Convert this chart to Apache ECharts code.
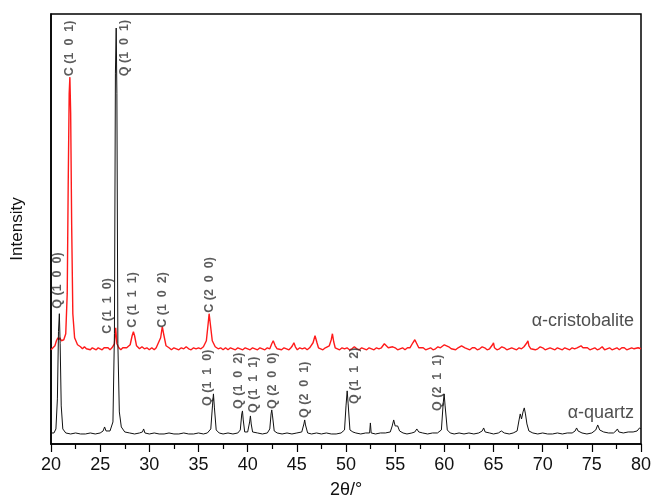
<!DOCTYPE html>
<html>
<head>
<meta charset="utf-8">
<script src="https://cdn.jsdelivr.net/npm/echarts@6/dist/echarts.min.js"></script>
<style>
  html, body { margin: 0; padding: 0; background: #fff; }
  #main { width: 655px; height: 499px; }
</style>
</head>
<body>
<div id="main"></div>
<script>
// 2theta ticks
var xTicks = [20, 25, 30, 35, 40, 45, 50, 55, 60, 65, 70, 75, 80];

// alpha-quartz pattern [2theta, intensity]
var quartz = [
  [20.0,11],[20.3,11],[20.5,15],[20.65,45],[20.76,112],[20.85,130],[20.93,100],[21.04,38],[21.2,15],[21.5,11],
  [22.0,10],[22.5,11],[23.0,10],[23.5,10],[24.0,11],[24.5,10],[25.0,11],[25.3,13],[25.45,17],[25.6,13],
  [26.0,13],[26.3,22],[26.45,110],[26.55,370],[26.63,415],[26.7,350],[26.8,100],[26.95,32],[27.15,17],[27.5,12],
  [28.0,11],[28.5,10],[29.0,11],[29.3,12],[29.42,15],[29.55,11],[30.0,10],[30.5,11],[31.0,10],[31.5,10],
  [32.0,11],[32.5,10],[33.0,10],[33.5,11],[34.0,10],[34.5,10],[35.0,11],[35.5,10],[35.9,11],[36.25,15],
  [36.42,38],[36.52,50],[36.62,36],[36.8,14],[37.1,11],[37.5,10],[38.0,11],[38.5,10],[39.0,11],[39.25,14],
  [39.4,30],[39.47,33],[39.55,24],[39.7,12],[40.0,12],[40.2,22],[40.28,28],[40.36,20],[40.5,12],[41.0,11],
  [41.5,10],[42.0,11],[42.25,15],[42.38,30],[42.45,34],[42.53,28],[42.7,13],[43.0,11],[43.5,10],[44.0,11],
  [44.5,10],[45.0,11],[45.5,12],[45.72,20],[45.8,24],[45.88,19],[46.1,11],[46.5,10],[47.0,11],[47.5,10],
  [48.0,11],[48.5,10],[49.0,10],[49.5,11],[49.85,14],[50.0,38],[50.12,53],[50.22,40],[50.4,14],[50.7,12],
  [51.0,11],[51.5,10],[52.0,11],[52.4,11],[52.48,21],[52.56,11],[53.0,10],[53.5,11],[54.0,11],[54.5,12],
  [54.7,18],[54.85,24],[55.0,18],[55.25,18],[55.45,13],[55.8,11],[56.2,10],[56.7,11],[57.0,12],[57.2,15],
  [57.4,12],[57.8,11],[58.3,10],[58.8,11],[59.3,11],[59.7,14],[59.88,40],[59.98,50],[60.08,38],[60.3,14],
  [60.6,11],[61.0,10],[61.5,11],[62.0,10],[62.5,11],[63.0,10],[63.5,11],[63.85,13],[64.0,16],[64.15,12],
  [64.6,11],[65.0,10],[65.5,11],[65.8,13],[66.1,11],[66.6,10],[67.0,11],[67.4,13],[67.6,24],[67.72,30],
  [67.85,25],[68.0,32],[68.13,36],[68.25,30],[68.4,20],[68.6,13],[69.0,11],[69.5,10],[70.0,11],[70.5,10],
  [71.0,10],[71.5,11],[72.0,10],[72.5,11],[73.0,11],[73.3,13],[73.45,16],[73.6,13],[74.0,11],[74.5,10],
  [75.0,11],[75.4,14],[75.6,19],[75.8,14],[76.2,12],[76.7,11],[77.2,11],[77.45,13],[77.6,15],[77.75,12],
  [78.2,11],[78.7,12],[79.2,12],[79.6,13],[79.85,16],[80.0,15]
];

// alpha-cristobalite pattern (offset upward)
var cristobalite = [
  [20.0,94],[20.2,96],[20.4,98],[20.55,103],[20.7,106],[20.8,104],[20.9,106],[21.05,103],[21.3,104],[21.5,110],
  [21.65,150],[21.75,260],[21.85,350],[21.92,366],[22.0,330],[22.1,220],[22.22,130],[22.4,106],[22.7,99],[23.0,97],
  [23.2,95],[23.4,97],[23.6,95],[23.8,96],[24.0,94],[24.2,96],[24.4,95],[24.6,94],[24.8,96],[25.0,95],
  [25.2,94],[25.4,96],[25.6,95],[25.8,96],[26.0,94],[26.2,96],[26.45,100],[26.58,116],[26.7,100],[26.9,96],
  [27.1,94],[27.3,96],[27.5,95],[27.7,96],[28.05,99],[28.25,108],[28.38,112],[28.5,108],[28.7,98],[29.0,95],
  [29.25,97],[29.5,95],[29.75,96],[30.0,94],[30.25,96],[30.5,94],[30.7,96],[30.9,97],[31.15,106],[31.32,117],
  [31.45,110],[31.7,98],[32.0,96],[32.25,94],[32.5,96],[32.75,95],[33.0,94],[33.25,96],[33.5,95],[33.75,97],
  [34.0,95],[34.25,94],[34.5,96],[34.75,95],[35.0,96],[35.25,95],[35.5,97],[35.8,103],[35.98,120],[36.08,130],
  [36.2,120],[36.4,103],[36.7,97],[37.0,95],[37.25,96],[37.5,94],[37.75,96],[38.0,94],[38.25,96],[38.5,95],
  [38.75,94],[39.0,96],[39.25,95],[39.5,94],[39.75,96],[40.0,95],[40.25,94],[40.5,96],[40.75,95],[41.0,94],
  [41.25,96],[41.5,95],[41.75,94],[42.0,96],[42.25,95],[42.45,100],[42.6,103],[42.8,98],[43.0,95],[43.2,96],
  [43.45,94],[43.7,96],[43.95,95],[44.2,94],[44.4,96],[44.55,98],[44.7,101],[44.85,97],[45.05,94],[45.3,96],
  [45.55,95],[45.8,96],[46.05,94],[46.3,96],[46.5,97],[46.65,101],[46.85,108],[47.05,101],[47.2,96],[47.4,97],
  [47.65,94],[47.9,96],[48.1,95],[48.3,98],[48.5,104],[48.62,110],[48.75,102],[48.9,96],[49.1,97],[49.35,94],
  [49.6,96],[49.85,95],[50.1,96],[50.35,94],[50.6,95],[50.85,97],[51.1,95],[51.35,94],[51.6,96],[51.85,95],
  [52.1,94],[52.35,96],[52.6,95],[52.85,94],[53.1,96],[53.35,95],[53.6,96],[53.9,100],[54.1,99],[54.3,96],
  [54.5,95],[54.75,97],[55.0,96],[55.25,94],[55.5,95],[55.75,96],[56.0,94],[56.25,96],[56.5,96],[56.8,101],
  [57.0,104],[57.2,100],[57.4,96],[57.6,95],[57.85,96],[58.1,94],[58.35,95],[58.6,96],[58.85,94],[59.1,95],
  [59.35,97],[59.6,96],[59.8,97],[60.0,99],[60.2,100],[60.45,97],[60.7,95],[60.9,96],[61.15,94],[61.4,96],
  [61.6,96],[61.75,98],[61.9,99],[62.1,96],[62.35,95],[62.6,94],[62.85,96],[63.1,96],[63.35,94],[63.6,95],
  [63.85,97],[64.1,96],[64.35,94],[64.6,95],[64.9,99],[65.0,101],[65.1,96],[65.35,94],[65.6,95],[65.85,97],
  [66.1,96],[66.35,94],[66.6,95],[66.85,96],[67.1,95],[67.35,94],[67.6,96],[67.85,95],[68.1,97],[68.4,101],
  [68.5,103],[68.6,98],[68.8,95],[69.0,96],[69.25,94],[69.5,95],[69.75,97],[70.0,96],[70.25,94],[70.5,95],
  [70.75,96],[71.0,95],[71.25,94],[71.5,96],[71.75,95],[72.0,94],[72.25,96],[72.5,95],[72.75,94],[73.0,96],
  [73.25,95],[73.5,96],[73.7,97],[73.9,98],[74.1,96],[74.3,95],[74.55,96],[74.8,94],[75.05,95],[75.3,96],
  [75.55,94],[75.8,95],[76.05,97],[76.3,94],[76.55,95],[76.8,96],[77.05,94],[77.3,95],[77.55,96],[77.8,94],
  [78.05,96],[78.3,96],[78.55,94],[78.8,95],[79.05,96],[79.3,95],[79.5,94],[79.7,96],[80.0,95]
];

// reflection labels: text, 2theta, intensity where text starts
var peakNames = ['Q (1  0  0)', 'C (1  0  1)', 'Q (1  0  1)', 'C (1  1  0)', 'C (1  1  1)', 'C (1  0  2)', 'C (2  0  0)',
                 'Q (1  1  0)', 'Q (1  0  2)', 'Q (1  1  1)', 'Q (2  0  0)', 'Q (2  0  1)', 'Q (1  1  2)', 'Q (2  1  1)'];
var peakPos = [20.71, 21.93, 27.53, 25.7, 28.34, 31.39, 36.17, 35.87, 39.12, 40.55, 42.58, 45.74, 50.82, 59.27];
var peakTextAt = [135, 367, 367, 110, 116, 116, 131, 38, 35, 31, 35, 26, 40, 33];

var phaseNames = ['\u03b1-cristobalite', '\u03b1-quartz'];
var phaseAt = [[79.3, 123], [79.3, 31]];

var myChart = echarts.init(document.getElementById('main'));

var labelData = [];
for (var i = 0; i < peakNames.length; i++) {
  labelData.push({ name: peakNames[i], value: [peakPos[i], peakTextAt[i]] });
}
var phaseData = [];
for (var j = 0; j < phaseNames.length; j++) {
  phaseData.push({ name: phaseNames[j], value: phaseAt[j] });
}

var option = {
  animation: false,
  backgroundColor: '#fff',
  grid: {
    left: 51, right: 14, top: 14, bottom: 55,
    outerBoundsMode: 'none',
    containLabel: false,
    show: true, borderColor: '#000', borderWidth: 1.5
  },
  xAxis: {
    type: 'value',
    min: 20, max: 80, interval: 5,
    name: '2\u03b8/\u00b0',
    nameLocation: 'middle',
    nameGap: 37,
    nameTextStyle: { fontFamily: 'Liberation Sans', fontSize: 18, color: '#111' },
    axisLine: { lineStyle: { color: '#000', width: 1.5 } },
    axisTick: { inside: false, length: 8, lineStyle: { color: '#000', width: 1.2 } },
    minorTick: { show: true, splitNumber: 2, length: 5, lineStyle: { color: '#000', width: 1.2 } },
    axisLabel: { fontFamily: 'Liberation Sans', fontSize: 18, color: '#111', margin: 12 },
    splitLine: { show: false }
  },
  yAxis: {
    type: 'value',
    min: 0, max: 429,
    name: 'Intensity',
    nameLocation: 'middle',
    nameGap: 25,
    nameTextStyle: { fontFamily: 'Liberation Sans', fontSize: 17, color: '#111' },
    axisLine: { show: true, lineStyle: { color: '#000', width: 1.5 } },
    axisTick: { show: false },
    axisLabel: { show: false },
    splitLine: { show: false }
  },
  series: [
    {
      name: 'quartz',
      type: 'line',
      data: quartz,
      showSymbol: false,
      lineStyle: { color: '#111', width: 1 },
      z: 3
    },
    {
      name: 'cristobalite',
      type: 'line',
      data: cristobalite,
      showSymbol: false,
      lineStyle: { color: '#ff1a1a', width: 1.4 },
      z: 2
    },
    {
      name: 'peaks',
      type: 'scatter',
      data: labelData,
      symbolSize: 0,
      silent: true,
      label: {
        show: true,
        formatter: '{b}',
        position: 'inside',
        rotate: 90,
        align: 'left',
        verticalAlign: 'middle',
        fontFamily: 'Liberation Sans',
        fontWeight: 'bold',
        fontSize: 12.5,
        color: '#333'
      }
    },
    {
      name: 'phases',
      type: 'scatter',
      data: phaseData,
      symbolSize: 0,
      silent: true,
      label: {
        show: true,
        formatter: '{b}',
        position: 'inside',
        align: 'right',
        verticalAlign: 'middle',
        fontFamily: 'Liberation Sans',
        fontSize: 18,
        color: '#222'
      }
    }
  ]
};
myChart.setOption(option);
</script>
</body>
</html>
